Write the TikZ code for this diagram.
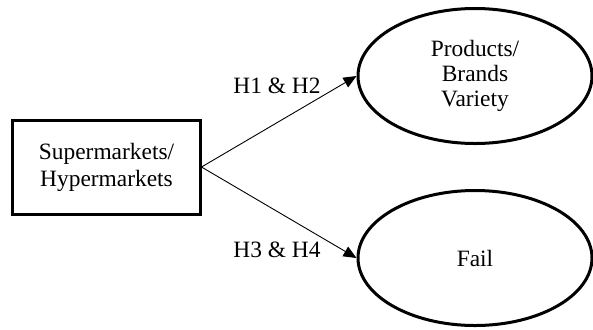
\documentclass[tikz,border=0pt]{standalone}
\usepackage{fontspec}
\setmainfont{Liberation Serif}
\usepackage{tikz}
\usetikzlibrary{arrows.meta,positioning,shapes.geometric}
\tikzset{
  ar/.style={-{Triangle[length=13bp,width=11bp]},line width=0.9bp,black},
  box/.style={draw,line width=3bp,minimum width=187bp,minimum height=94bp,inner sep=0pt,align=center,font=\fontsize{23.5}{27}\selectfont},
  ov/.style={ellipse,draw,line width=3bp,minimum width=234bp,minimum height=135bp,inner sep=0pt,align=center,font=\fontsize{23.5}{25}\selectfont},
  lb/.style={font=\fontsize{23.5}{27}\selectfont,inner sep=0pt}
}
\begin{document}
\begin{tikzpicture}[x=1bp,y=-1bp]
\useasboundingbox (0,0) rectangle (593,329);
\node[box] (mkt) at (106.5,167) {Supermarkets/\\Hypermarkets};
\node[ov] (var) at (475,76) {Products/\\Brands\\Variety};
\node[ov] (fail) at (475,258) {Fail};
\draw[ar] (mkt.east) -- (var.west);
\draw[ar] (mkt.east) -- (fail.west);
\node[lb] (h12) at (277,86) {H1 \& H2};
\node[lb] (h34) at (277,250) {H3 \& H4};
\end{tikzpicture}
\end{document}
